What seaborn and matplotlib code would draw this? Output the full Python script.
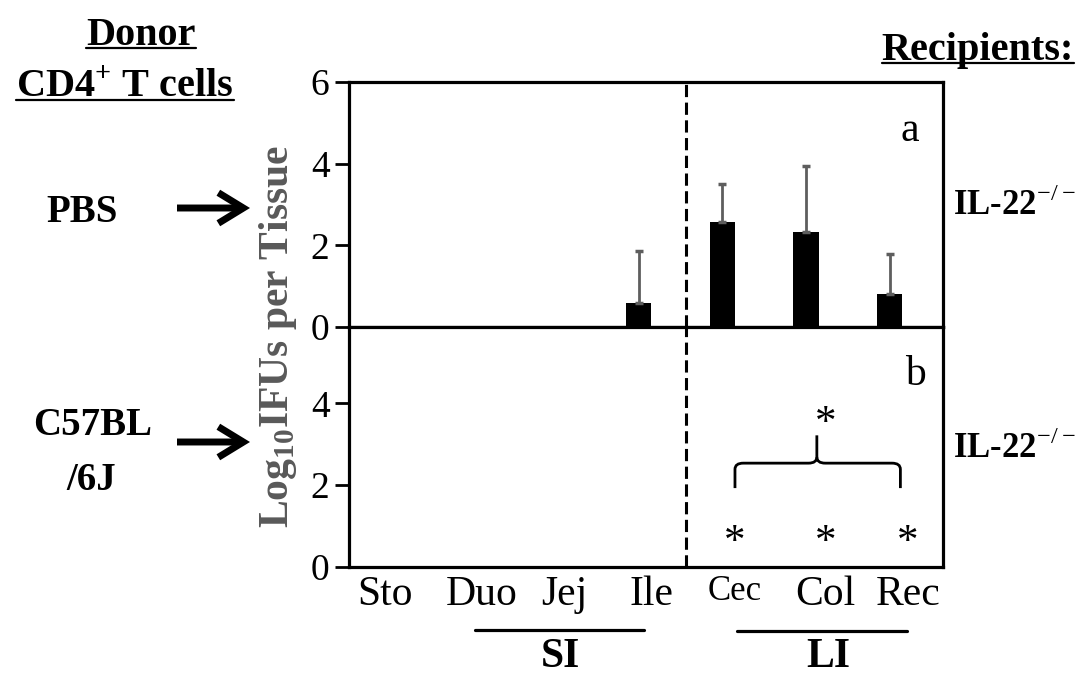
import numpy as np
import pandas as pd
import matplotlib.pyplot as plt
import matplotlib.patches as mpatches
from matplotlib.path import Path
from matplotlib.lines import Line2D
import seaborn as sns

tissues = ["Sto", "Duo", "Jej", "Ile", "Cec", "Col", "Rec"]
pbs_mean = [0, 0, 0, 0.6, 2.56, 2.33, 0.8]
pbs_sd = [0, 0, 0, 1.27, 0.93, 1.62, 0.98]
b6_mean = [0, 0, 0, 0, 0, 0, 0]
star_tissues = ["Cec", "Col", "Rec"]

sns.set_theme(style="white")
plt.rcParams["font.family"] = ["Liberation Serif", "DejaVu Serif"]
plt.rcParams["mathtext.fontset"] = "custom"
plt.rcParams["mathtext.rm"] = "Liberation Serif"
plt.rcParams["mathtext.bf"] = "Liberation Serif:bold"
for key in ("text.color", "axes.labelcolor", "xtick.color", "ytick.color"):
    plt.rcParams[key] = "black"

W, H = 1078, 676
fig = plt.figure(figsize=(W / 100, H / 100), dpi=100)
ax_top = fig.add_axes([349 / W, 1 - 327 / H, 594 / W, 245 / H])
ax_bot = fig.add_axes([349 / W, 1 - 567 / H, 594 / W, 240 / H])

top_df = pd.DataFrame({"tissue": tissues, "value": pbs_mean})
bot_df = pd.DataFrame({"tissue": tissues, "value": b6_mean})
sns.barplot(data=top_df, x="tissue", y="value", order=tissues, color="black",
            width=0.3, errorbar=None, saturation=1, linewidth=0, ax=ax_top)
sns.barplot(data=bot_df, x="tissue", y="value", order=tissues, color="black",
            width=0.3, errorbar=None, saturation=1, linewidth=0, ax=ax_bot)

# upper error bars only
xs = np.arange(len(tissues))
has_err = np.array(pbs_sd) > 0
ax_top.errorbar(xs[has_err], np.array(pbs_mean)[has_err],
                yerr=[np.zeros(has_err.sum()), np.array(pbs_sd)[has_err]],
                fmt="none", ecolor="#5e5e5e", elinewidth=2, capsize=3, capthick=2.5)

# label offsets (labels sit a bit right of the bars)
shift = np.array([-0.04, 0.12, 0.11, 0.15, 0.15, 0.23, 0.22])
label_x = xs + shift

for ax in (ax_top, ax_bot):
    ax.set_xlim(-0.47, 6.64)
    ax.set_xlabel("")
    ax.set_ylabel("")
    for s in ax.spines.values():
        s.set_linewidth(2.3)
        s.set_color("black")
    ax.axvline(3.56, color="black", lw=2.2, ls=(0, (4, 1.8)))
    ax.tick_params(axis="y", length=10, width=2, pad=4, labelsize=27, left=True)

ax_top.set_ylim(0, 6)
ax_top.set_yticks([0, 2, 4, 6])
ax_top.set_xticks([])
ax_bot.set_ylim(0, 5.87)
ax_bot.set_yticks([0, 2, 4])
ax_bot.set_xticks(label_x, tissues)
ax_bot.tick_params(axis="x", length=0, pad=6, labelsize=30)
for lab in ax_bot.get_xticklabels():
    if lab.get_text() == "Cec":
        lab.set_fontsize(25)

ax_top.text(0.944, 0.80, "a", transform=ax_top.transAxes, fontsize=30, ha="center", va="center")
ax_bot.text(0.953, 0.80, "b", transform=ax_bot.transAxes, fontsize=30, ha="center", va="center")

# significance marks
for t in star_tissues:
    i = tissues.index(t)
    ax_bot.text(label_x[i], 0.6, "*", fontsize=31, ha="center", va="center")
ax_bot.text(label_x[5], 3.5, "*", fontsize=31, ha="center", va="center")

# curly brace
x0, x1, xm = 4.15, 6.13, 5.13
yb, yh, ytip = 1.93, 2.54, 3.22
r = 0.1
verts = [(x0, yb), (x0, yh - 0.15), (x0, yh), (x0 + r, yh),
         (xm - r, yh), (xm, yh), (xm, yh + 0.15), (xm, ytip)]
codes = [Path.MOVETO, Path.LINETO, Path.CURVE3, Path.CURVE3,
         Path.LINETO, Path.CURVE3, Path.CURVE3, Path.LINETO]
ax_bot.add_patch(mpatches.PathPatch(Path(verts, codes), fill=False, lw=2, color="black"))
verts2 = [(x1, yb), (x1, yh - 0.15), (x1, yh), (x1 - r, yh),
          (xm + r, yh), (xm, yh), (xm, yh + 0.15)]
codes2 = [Path.MOVETO, Path.LINETO, Path.CURVE3, Path.CURVE3,
          Path.LINETO, Path.CURVE3, Path.CURVE3]
ax_bot.add_patch(mpatches.PathPatch(Path(verts2, codes2), fill=False, lw=2, color="black"))

# SI / LI grouping lines
trans = ax_bot.get_xaxis_transform()
ax_bot.add_line(Line2D([1.04, 3.06], [-0.262, -0.262], transform=trans, color="black",
                       lw=2.3, clip_on=False))
ax_bot.add_line(Line2D([4.17, 6.21], [-0.267, -0.267], transform=trans, color="black",
                       lw=2.3, clip_on=False))
fig.text(560 / W, 9 / H, "SI", fontsize=30, fontweight="bold", ha="center", va="baseline")
fig.text(828 / W, 9 / H, "LI", fontsize=30, fontweight="bold", ha="center", va="baseline")

# y label
fig.text(278 / W, 1 - 336 / H, r"Log$_{\mathbf{10}}$IFUs per Tissue", rotation=90,
         fontsize=30, fontweight="bold", color="#595959", ha="center", va="center")


def fig_text(x, y, s, size, ha="center", underline=False):
    t = fig.text(x / W, 1 - y / H, s, fontsize=size, fontweight="bold",
                 ha=ha, va="baseline")
    if underline:
        fig.canvas.draw()
        bb = t.get_window_extent()
        fig.add_artist(Line2D([bb.x0 / W, bb.x1 / W], [1 - (y + 3) / H] * 2,
                              color="black", lw=1.6))
    return t


fig_text(141, 45, "Donor", 29, underline=True)
fig_text(125, 97, r"CD4$^{\mathbf{+}}$ T cells", 29, underline=True)
fig_text(978, 60, "Recipients:", 29, underline=True)
fig_text(82, 222, "PBS", 28)
fig_text(93, 435, "C57BL", 28)
fig_text(91, 490, "/6J", 28)
fig_text(953, 215, r"IL-22$^{\mathrm{-/-}}$", 25, ha="left")
fig_text(953, 458, r"IL-22$^{\mathrm{-/-}}$", 25, ha="left")

for y in (208, 442):
    fig.add_artist(mpatches.FancyArrowPatch(
        (177 / W, 1 - y / H), (250 / W, 1 - y / H), transform=fig.transFigure,
        arrowstyle="->,head_length=0.9,head_width=0.55", mutation_scale=20,
        lw=5, color="black", shrinkA=0, shrinkB=0, joinstyle="miter", capstyle="butt"))

fig.savefig("out.png", dpi=100)
